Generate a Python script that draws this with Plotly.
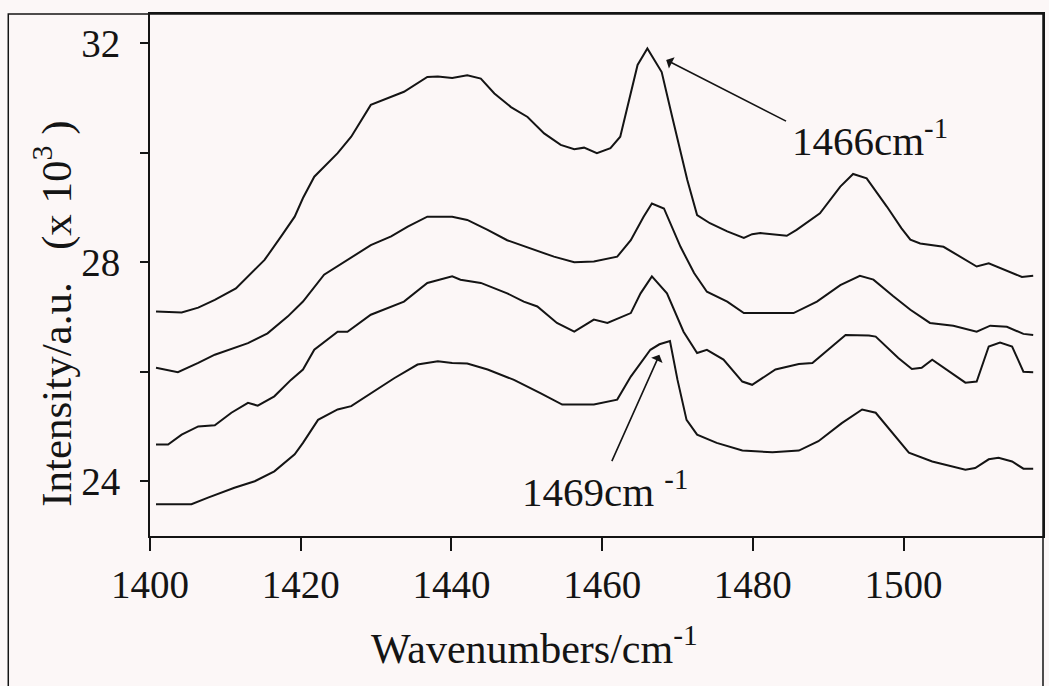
import plotly.graph_objects as go

# Four stacked spectra (wavenumber in cm^-1, intensity in units of 10^3)
wn_a = [1400.8, 1404.2, 1406.4, 1408.6, 1411.4, 1413.0, 1415.2, 1417.4, 1419.2, 1420.3,
        1421.8, 1424.9, 1426.7, 1429.3, 1431.5, 1433.7, 1436.8, 1438.2, 1440.1, 1442.1,
        1443.9, 1445.7, 1447.9, 1450.1, 1452.3, 1454.5, 1456.3, 1457.6, 1459.3, 1461.1,
        1462.4, 1464.7, 1466.0, 1467.9, 1469.3, 1471.3, 1472.6, 1474.3, 1476.6, 1478.8,
        1479.9, 1481.0, 1484.5, 1485.8, 1488.9, 1491.6, 1493.3, 1495.1, 1497.8, 1499.7,
        1500.9, 1502.2, 1505.3, 1507.5, 1509.7, 1511.3, 1513.3, 1515.7, 1517.2]
int_a = [27.10, 27.08, 27.17, 27.31, 27.52, 27.74, 28.04, 28.47, 28.83, 29.17,
         29.56, 29.99, 30.29, 30.87, 30.99, 31.11, 31.38, 31.39, 31.36, 31.41,
         31.35, 31.08, 30.83, 30.65, 30.35, 30.14, 30.06, 30.09, 29.99, 30.08,
         30.29, 31.60, 31.90, 31.47, 30.65, 29.50, 28.86, 28.71, 28.56, 28.44,
         28.51, 28.53, 28.48, 28.59, 28.89, 29.38, 29.61, 29.53, 29.01, 28.62,
         28.41, 28.34, 28.28, 28.10, 27.92, 27.98, 27.86, 27.73, 27.75]

wn_b = [1400.8, 1403.7, 1406.4, 1408.6, 1413.0, 1415.6, 1418.3, 1420.3, 1423.1, 1426.2,
        1429.3, 1432.0, 1434.2, 1436.8, 1440.1, 1442.1, 1444.8, 1447.4, 1451.0, 1453.6,
        1456.3, 1458.9, 1462.0, 1463.8, 1465.5, 1466.6, 1468.2, 1470.4, 1472.2, 1473.9,
        1476.6, 1478.8, 1481.9, 1485.4, 1488.5, 1491.6, 1494.2, 1496.0, 1498.6, 1500.9,
        1503.5, 1506.6, 1509.7, 1511.5, 1513.7, 1515.9, 1517.2]
int_b = [26.07, 25.99, 26.16, 26.31, 26.52, 26.70, 27.01, 27.28, 27.77, 28.04,
         28.31, 28.47, 28.65, 28.83, 28.83, 28.77, 28.59, 28.40, 28.22, 28.10,
         28.00, 28.01, 28.10, 28.40, 28.83, 29.07, 28.98, 28.28, 27.80, 27.46,
         27.28, 27.07, 27.07, 27.07, 27.28, 27.58, 27.75, 27.68, 27.38, 27.13,
         26.89, 26.84, 26.73, 26.84, 26.82, 26.69, 26.67]

wn_c = [1400.8, 1402.4, 1404.2, 1406.4, 1408.6, 1410.8, 1413.0, 1414.3, 1416.5, 1418.7,
        1420.3, 1421.8, 1424.9, 1426.2, 1429.3, 1433.7, 1436.8, 1440.1, 1441.2, 1443.9,
        1447.4, 1449.6, 1451.4, 1454.0, 1456.3, 1458.9, 1460.7, 1463.8, 1465.1, 1466.6,
        1468.6, 1470.8, 1472.6, 1473.9, 1476.1, 1478.6, 1479.9, 1483.0, 1486.1, 1487.9,
        1492.3, 1495.4, 1496.3, 1499.3, 1501.1, 1502.4, 1503.8, 1506.4, 1508.2, 1509.7,
        1511.3, 1512.8, 1514.4, 1515.9, 1517.2]
int_c = [24.67, 24.67, 24.85, 25.00, 25.02, 25.25, 25.43, 25.38, 25.55, 25.85,
         26.04, 26.40, 26.73, 26.73, 27.04, 27.28, 27.62, 27.74, 27.68, 27.62,
         27.43, 27.28, 27.19, 26.89, 26.73, 26.95, 26.89, 27.07, 27.43, 27.74,
         27.43, 26.73, 26.34, 26.40, 26.22, 25.82, 25.76, 26.04, 26.14, 26.16,
         26.67, 26.66, 26.64, 26.25, 26.05, 26.07, 26.22, 25.98, 25.80, 25.82,
         26.46, 26.53, 26.46, 26.00, 25.99]

wn_d = [1400.8, 1405.5, 1407.7, 1411.2, 1413.9, 1416.5, 1419.2, 1420.3, 1422.3, 1424.9,
        1426.7, 1429.3, 1432.4, 1435.5, 1438.2, 1440.1, 1442.1, 1444.8, 1448.3, 1451.8,
        1454.7, 1458.9, 1462.0, 1463.8, 1466.4, 1467.6, 1469.0, 1470.0, 1471.2, 1472.6,
        1475.2, 1478.6, 1482.6, 1486.1, 1488.7, 1491.8, 1494.5, 1496.3, 1500.7, 1503.8,
        1506.4, 1508.2, 1509.5, 1511.3, 1512.6, 1514.4, 1515.9, 1517.2]
int_d = [23.58, 23.58, 23.70, 23.88, 24.00, 24.18, 24.49, 24.70, 25.12, 25.31,
         25.37, 25.61, 25.88, 26.13, 26.19, 26.16, 26.15, 26.04, 25.85, 25.61,
         25.40, 25.40, 25.49, 25.91, 26.40, 26.50, 26.56, 25.85, 25.12, 24.85,
         24.70, 24.56, 24.53, 24.56, 24.73, 25.06, 25.31, 25.25, 24.52, 24.36,
         24.27, 24.21, 24.24, 24.40, 24.43, 24.36, 24.23, 24.23]

x_ticks = [1400, 1420, 1440, 1460, 1480, 1500]
y_ticks = [24, 26, 28, 30, 32]
y_tick_text = ["24", "", "28", "", "32"]

# Peak markers: (label, peak position, arrow tip, arrow tail)
peak_hi = ("1466", 1466, (1468.5, 31.69), (1484.6, 30.56))
peak_lo = ("1469", 1469, (1467.6, 26.31), (1461.2, 24.34))

SERIF = "Liberation Serif, Times New Roman, serif"
INK = "#141414"
BG = "#fcf7f7"

fig = go.Figure()
for xs, ys in [(wn_a, int_a), (wn_b, int_b), (wn_c, int_c), (wn_d, int_d)]:
    fig.add_trace(go.Scatter(x=xs, y=ys, mode="lines",
                             line=dict(color=INK, width=2), showlegend=False,
                             hoverinfo="skip"))

annotations = []
for label, _, tip, tail in (peak_hi, peak_lo):
    annotations.append(dict(
        x=tip[0], y=tip[1], xref="x", yref="y",
        ax=tail[0], ay=tail[1], axref="x", ayref="y",
        text="", showarrow=True, arrowhead=1, arrowsize=1.3,
        arrowwidth=1.6, arrowcolor=INK))

# Peak labels
annotations.append(dict(x=1484.9, y=30.26, xref="x", yref="y",
                        text=peak_hi[0] + "cm<sup>-1</sup>", showarrow=False,
                        xanchor="left", yanchor="middle",
                        font=dict(family=SERIF, size=41, color=INK)))
annotations.append(dict(x=1449.1, y=23.85, xref="x", yref="y",
                        text=peak_lo[0] + "cm <sup>-1</sup>", showarrow=False,
                        xanchor="left", yanchor="middle",
                        font=dict(family=SERIF, size=41, color=INK)))

# Axis titles
annotations.append(dict(x=-0.109, y=0.425, xref="paper", yref="paper",
                        text="Intensity/a.u.   (x 10<sup>3</sup> )",
                        textangle=-90, showarrow=False,
                        xanchor="center", yanchor="middle",
                        font=dict(family=SERIF, size=43, color=INK)))
annotations.append(dict(x=0.431, y=-0.209, xref="paper", yref="paper",
                        text="Wavenumbers/cm<sup>-1</sup>", showarrow=False,
                        xanchor="center", yanchor="middle",
                        font=dict(family=SERIF, size=42, color=INK)))

fig.update_layout(
    width=1049, height=686,
    margin=dict(l=150, r=4, t=14, b=150),
    paper_bgcolor=BG, plot_bgcolor=BG,
    annotations=annotations,
    shapes=[dict(type="rect", xref="paper", yref="paper",
                 x0=-0.1587, x1=1.0, y0=-0.4, y1=1.0,
                 line=dict(color=INK, width=1.5), layer="below")],
    xaxis=dict(range=[1400, 1518.5], tickvals=x_ticks,
               ticks="outside", ticklen=13, tickwidth=1.5, tickcolor=INK,
               showline=True, linecolor=INK, linewidth=2, mirror=True,
               showgrid=False, zeroline=False,
               tickfont=dict(family=SERIF, size=39, color=INK)),
    yaxis=dict(range=[23.0, 32.53], tickvals=y_ticks, ticktext=y_tick_text,
               ticks="outside", ticklen=8, tickwidth=1.5, tickcolor=INK,
               showline=True, linecolor=INK, linewidth=2, mirror=True,
               showgrid=False, zeroline=False, ticklabelstandoff=12,
               tickfont=dict(family=SERIF, size=39, color=INK)),
    yaxis2=dict(range=[23.0, 32.53], tickvals=y_ticks, overlaying="y",
                anchor="x", side="left", ticks="inside", ticklen=7,
                tickwidth=1.5, tickcolor=INK, showticklabels=False,
                showgrid=False, zeroline=False, showline=False),
)

fig.write_html("out.html")
